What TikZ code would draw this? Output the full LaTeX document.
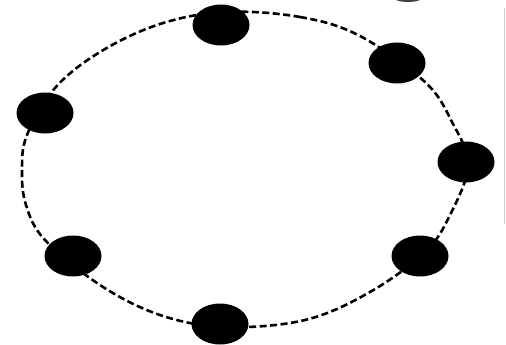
\documentclass[tikz,border=0pt]{standalone}
\usetikzlibrary{shapes.geometric}
\begin{document}
\begin{tikzpicture}[x=1pt,y=-1pt,
  dot/.style={ellipse,fill=black,draw=none,minimum width=57pt,minimum height=41pt,inner sep=0pt},
  ring/.style={line width=2.6pt,dash pattern=on 7pt off 3.5pt,black}]
\useasboundingbox (0,0) rectangle (506,345);
\fill[white] (0,0) rectangle (506,345);
% dashed ring
\draw[ring] plot[smooth cycle,tension=0.6] coordinates {
 (225,12) (300,17) (360,36) (425,82) (452,122) (468,165) (450,215) (425,252)
 (370,292) (305,320) (225,327) (160,315) (100,285) (45,240) (26,205) (22,170)
 (27,135) (55,88) (100,52) (160,24)};
% dots
\node[dot] (top) at (221,25) {};
\node[dot] (ur) at (397,63) {};
\node[dot] (r) at (466,162) {};
\node[dot] (lr) at (420,256) {};
\node[dot] (b) at (220,324) {};
\node[dot] (ll) at (73,256) {};
\node[dot] (l) at (45,113) {};
% edge artefacts
\draw[black!20,line width=1pt] (504.5,8) -- (504.5,224);
\begin{scope}
\clip (0,0) rectangle (506,345);
\fill[black!75] (408,-3) ellipse (15 and 5);
\end{scope}
\end{tikzpicture}
\end{document}
